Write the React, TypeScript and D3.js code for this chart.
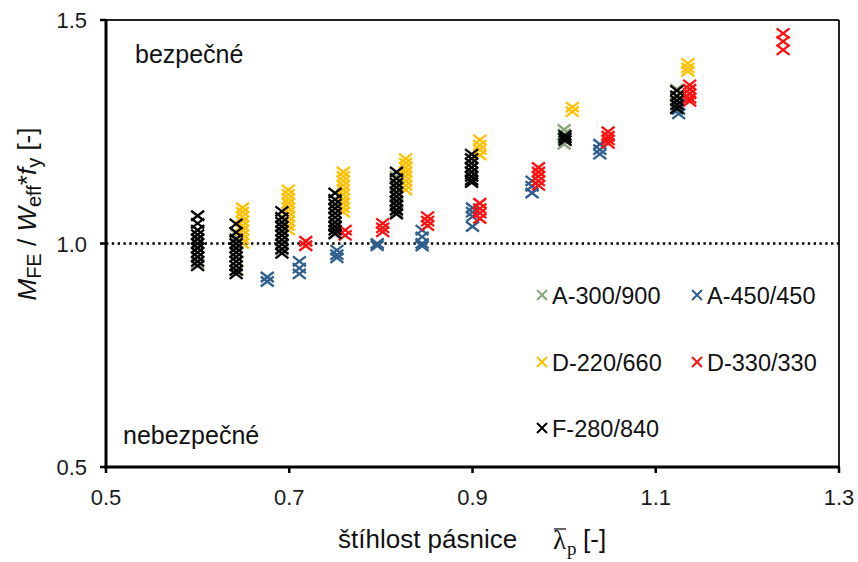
import React from "react";
import * as d3 from "d3";

// Slenderness of the flange (x) vs. normalised bending resistance (y)
type Column = [number, number[]];

const seriesNames = ["A-300/900", "A-450/450", "D-220/660", "D-330/330", "F-280/840"];
const seriesColors = ["#8aa67a", "#2f5f8e", "#ffc000", "#ff1010", "#000000"];

const ptsA300x900: Column[] = [
  [0.6, [1.03, 1.01, 0.99, 0.97, 0.955]],
  [0.643, [1.02, 1.0, 0.98, 0.96, 0.94]],
  [0.692, [1.06, 1.04, 1.02, 1.0, 0.985]],
  [0.75, [1.1, 1.08, 1.06, 1.04, 1.02]],
  [0.817, [1.15, 1.13, 1.11, 1.09, 1.07]],
  [0.899, [1.19, 1.17, 1.15, 1.14]],
  [1.0, [1.255, 1.245, 1.235, 1.222]],
  [1.123, [1.345, 1.33, 1.315, 1.3]],
];

const ptsA450x450: Column[] = [
  [0.676, [0.925, 0.915]],
  [0.711, [0.96, 0.945, 0.932]],
  [0.752, [0.985, 0.975, 0.968]],
  [0.796, [1.0, 0.995]],
  [0.845, [1.03, 1.015, 1.0, 0.994]],
  [0.9, [1.08, 1.07, 1.06, 1.038]],
  [0.965, [1.14, 1.128, 1.113]],
  [1.039, [1.222, 1.21, 1.2]],
  [1.125, [1.31, 1.3, 1.29]],
];

const ptsD220x660: Column[] = [
  [0.649, [1.08, 1.07, 1.06, 1.05, 1.04, 1.03, 1.02, 1.01, 1.0]],
  [0.699, [1.12, 1.11, 1.1, 1.09, 1.08, 1.07, 1.06, 1.05, 1.04, 1.03]],
  [0.759, [1.16, 1.15, 1.14, 1.13, 1.12, 1.11, 1.1, 1.09, 1.08, 1.07]],
  [0.827, [1.19, 1.18, 1.17, 1.16, 1.15, 1.14, 1.13, 1.12]],
  [0.908, [1.232, 1.22, 1.21, 1.198]],
  [1.009, [1.305, 1.295]],
  [1.135, [1.403, 1.393, 1.385]],
];

const ptsD330x330: Column[] = [
  [0.718, [1.005, 0.995]],
  [0.761, [1.03, 1.018]],
  [0.802, [1.045, 1.035, 1.026]],
  [0.851, [1.06, 1.05, 1.04]],
  [0.908, [1.09, 1.078, 1.068, 1.056]],
  [0.972, [1.17, 1.16, 1.15, 1.14, 1.13]],
  [1.048, [1.25, 1.24, 1.232, 1.224]],
  [1.137, [1.355, 1.345, 1.335, 1.325, 1.318]],
  [1.239, [1.47, 1.452, 1.433]],
];

const ptsF280x840: Column[] = [
  [0.6, [1.062, 1.045, 1.03, 1.02, 1.01, 1.0, 0.99, 0.98, 0.97, 0.96, 0.95]],
  [0.642, [1.044, 1.025, 1.01, 1.0, 0.99, 0.98, 0.97, 0.96, 0.95, 0.94, 0.932]],
  [0.692, [1.072, 1.058, 1.048, 1.038, 1.028, 1.018, 1.008, 0.998, 0.988, 0.978]],
  [0.75, [1.113, 1.098, 1.088, 1.078, 1.068, 1.058, 1.048, 1.038, 1.03, 1.022]],
  [0.817, [1.16, 1.145, 1.135, 1.125, 1.115, 1.105, 1.095, 1.085, 1.075, 1.066]],
  [0.899, [1.2, 1.19, 1.18, 1.17, 1.16, 1.15, 1.142, 1.136]],
  [1.001, [1.242, 1.236, 1.23]],
  [1.123, [1.342, 1.33, 1.32, 1.31, 1.302]],
];

const seriesData = [ptsA300x900, ptsA450x450, ptsD220x660, ptsD330x330, ptsF280x840];

const xTicks = [0.5, 0.7, 0.9, 1.1, 1.3];
const yTicks = [0.5, 1.0, 1.5];
const limitValue = 1.0;

const W = 858;
const H = 562;
const sans = "'Liberation Sans', Arial, sans-serif";
const serif = "'Liberation Serif', 'Times New Roman', serif";

const x = d3.scaleLinear().domain([0.5, 1.3]).range([106, 839]);
const y = d3.scaleLinear().domain([0.5, 1.5]).range([467, 20]);

function Cross({ cx, cy, color, hw = 6.5, hh = 5, sw = 2.3 }: { cx: number; cy: number; color: string; hw?: number; hh?: number; sw?: number }) {
  const p = d3.path();
  p.moveTo(cx - hw, cy - hh);
  p.lineTo(cx + hw, cy + hh);
  p.moveTo(cx - hw, cy + hh);
  p.lineTo(cx + hw, cy - hh);
  return <path d={p.toString()} stroke={color} strokeWidth={sw} fill="none" />;
}

const legendPos: [number, number][] = [
  [542, 295],
  [697, 295],
  [542, 362],
  [697, 362],
  [542, 428],
];

export default function App() {
  const [x0, x1] = x.range();
  const [yb, yt] = y.range();
  return (
    <svg width={W} height={H} style={{ position: "absolute", left: 0, top: 0, background: "#fff" }} fontFamily={sans}>
      <rect width={W} height={H} fill="#fff" />

      {/* frame */}
      <line x1={x0} x2={x1} y1={yt} y2={yt} stroke="#222" strokeWidth={2} />
      <line x1={x1} x2={x1} y1={yt} y2={yb} stroke="#222" strokeWidth={2} />

      {/* limit line */}
      <line x1={x0} x2={x1} y1={y(limitValue)} y2={y(limitValue)} stroke="#000" strokeWidth={2.6} strokeDasharray="2.4 3.4" />

      {/* points */}
      {seriesData.map((cols, si) =>
        cols.flatMap(([xv, ys], ci) =>
          ys.map((yv, k) => <Cross key={`${si}-${ci}-${k}`} cx={x(xv)} cy={y(yv)} color={seriesColors[si]} />)
        )
      )}

      {/* axes */}
      <line x1={x0} x2={x0} y1={yt - 1} y2={yb + 1.5} stroke="#000" strokeWidth={3} />
      <line x1={x0 - 1.5} x2={x1 + 1} y1={yb} y2={yb} stroke="#000" strokeWidth={3} />
      {xTicks.map((t) => (
        <g key={`xt${t}`}>
          <line x1={x(t)} x2={x(t)} y1={yb} y2={yb + 6} stroke="#000" strokeWidth={2.5} />
          <text x={x(t)} y={505} fontSize={22} textAnchor="middle" fill="#1a1a1a">
            {t.toFixed(1)}
          </text>
        </g>
      ))}
      {yTicks.map((t) => (
        <g key={`yt${t}`}>
          <line x1={x0 - 6} x2={x0} y1={y(t)} y2={y(t)} stroke="#000" strokeWidth={2.5} />
          <text x={87} y={y(t) + 8} fontSize={22} textAnchor="end" fill="#1a1a1a">
            {t.toFixed(1)}
          </text>
        </g>
      ))}

      {/* region notes */}
      <text x={135} y={63} fontSize={25} fill="#111">bezpečné</text>
      <text x={123} y={444} fontSize={25} fill="#111">nebezpečné</text>

      {/* axis titles */}
      <text transform="translate(36,214) rotate(-90)" textAnchor="middle" fontSize={26} fill="#111" style={{ whiteSpace: "pre" }}>
        <tspan fontStyle="italic">M</tspan>
        <tspan fontSize={20} dy={5}>FE</tspan>
        <tspan dy={-5}> / </tspan>
        <tspan fontStyle="italic">W</tspan>
        <tspan fontSize={20} dy={5}>eff</tspan>
        <tspan dy={-5}>*</tspan>
        <tspan fontStyle="italic">f</tspan>
        <tspan fontSize={20} dy={5}>y</tspan>
        <tspan dy={-5}> [-]</tspan>
      </text>

      <text x={338} y={548} fontSize={26} fill="#111">štíhlost pásnice</text>
      <text x={553} y={549} fontSize={27} fontFamily={serif} fill="#111">λ</text>
      <line x1={554} x2={566} y1={529} y2={529} stroke="#111" strokeWidth={1.3} />
      <text x={567} y={555} fontSize={19} fontFamily={serif} fill="#111">p</text>
      <text x={583} y={548} fontSize={26} fill="#111">[-]</text>

      {/* legend */}
      {seriesNames.map((name, i) => (
        <g key={name}>
          <Cross cx={legendPos[i][0]} cy={legendPos[i][1]} color={seriesColors[i]} hw={5} hh={5} sw={2} />
          <text x={legendPos[i][0] + 10} y={legendPos[i][1] + 8.5} fontSize={23.5} fill="#111">
            {name}
          </text>
        </g>
      ))}
    </svg>
  );
}
